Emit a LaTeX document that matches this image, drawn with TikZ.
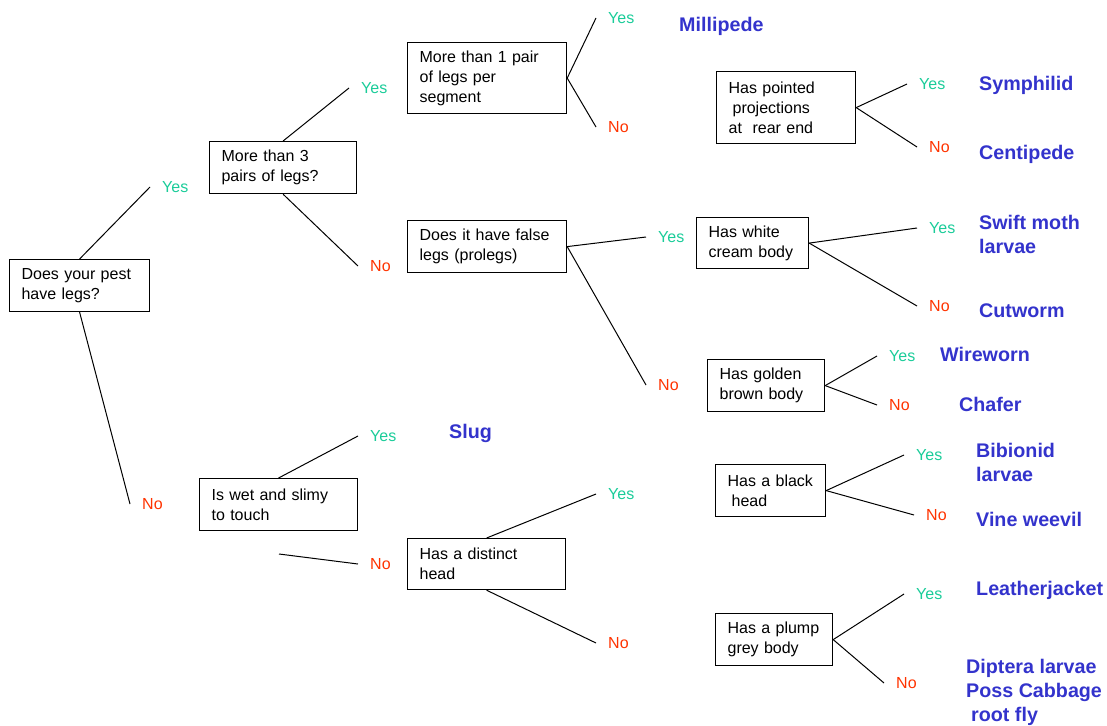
\documentclass[tikz,border=0pt]{standalone}
\usepackage{fontspec}
\setmainfont{Liberation Sans}
\definecolor{yescol}{RGB}{26,204,153}
\definecolor{nocol}{RGB}{255,51,0}
\definecolor{pestcol}{RGB}{51,51,204}
\begin{document}
\begin{tikzpicture}[x=1pt,y=-1pt,
 qbox/.style={draw,line width=1.2pt,anchor=north west,align=left,inner xsep=12pt,inner ysep=0pt,minimum height=52pt,font=\fontsize{16}{20}\selectfont},
 yeslbl/.style={anchor=west,inner xsep=12pt,inner ysep=0pt,text=yescol,font=\fontsize{16}{20}\selectfont},
 nolbl/.style={yeslbl,text=nocol},
 pest/.style={anchor=north west,inner sep=0pt,align=left,text=pestcol,font=\bfseries\fontsize{19.7}{24}\selectfont},
 link/.style={line width=1pt}]
 \useasboundingbox (0,0) rectangle (1107,725);
 % questions
 \node[qbox,text width=116pt] (legs) at (9,259) {Does your pest\\have legs?};
 \node[qbox,text width=123pt] (pairs) at (209,141) {More than 3\\pairs of legs?};
 \node[qbox,text width=135pt,minimum height=71pt] (perseg) at (407,42) {More than 1 pair\\of legs per\\segment};
 \node[qbox,text width=135pt] (false) at (407,220) {Does it have false\\legs (prolegs)};
 \node[qbox,text width=115pt,minimum height=72pt] (pointed) at (716,71) {Has pointed\\\hspace*{4pt}projections\\at\ \ rear end};
 \node[qbox,text width=88pt,minimum height=51pt] (white) at (696,217) {Has white\\cream body};
 \node[qbox,text width=93pt] (golden) at (707,359) {Has golden\\brown body};
 \node[qbox,text width=134pt] (slimy) at (199,478) {Is wet and slimy\\to touch};
 \node[qbox,text width=134pt,minimum height=51pt] (head) at (407,538) {Has a distinct\\head};
 \node[qbox,text width=86pt] (black) at (715,464) {Has a black\\\hspace*{4pt}head};
 \node[qbox,text width=93pt] (plump) at (715,613) {Has a plump\\grey body};
 % answers
 \node[yeslbl] (y1) at (150,187) {Yes};
 \node[nolbl] (n1) at (130,504) {No};
 \node[yeslbl] (y2) at (349,88) {Yes};
 \node[nolbl] (n2) at (358,266) {No};
 \node[yeslbl] (y3) at (596,18) {Yes};
 \node[nolbl] (n3) at (596,127) {No};
 \node[yeslbl] (y4) at (646,237) {Yes};
 \node[nolbl] (n4) at (646,385) {No};
 \node[yeslbl] (y5) at (907,84) {Yes};
 \node[nolbl] (n5) at (917,147) {No};
 \node[yeslbl] (y6) at (917,228) {Yes};
 \node[nolbl] (n6) at (917,306) {No};
 \node[yeslbl] (y7) at (877,356) {Yes};
 \node[nolbl] (n7) at (877,405) {No};
 \node[yeslbl] (y8) at (358,436) {Yes};
 \node[nolbl] (n8) at (358,564) {No};
 \node[yeslbl] (y9) at (596,494) {Yes};
 \node[nolbl] (n9) at (596,643) {No};
 \node[yeslbl] (y10) at (904,455) {Yes};
 \node[nolbl] (n10) at (914,515) {No};
 \node[yeslbl] (y11) at (904,594) {Yes};
 \node[nolbl] (n11) at (884,683) {No};
 \coordinate (slimyno) at (279,554);
 % pests
 \node[pest] (millipede) at (679,17) {Millipede};
 \node[pest] (symphilid) at (979,76) {Symphilid};
 \node[pest] (centipede) at (979,145) {Centipede};
 \node[pest] (swift) at (979,215) {Swift moth\\larvae};
 \node[pest] (cutworm) at (979,304) {Cutworm};
 \node[pest] (wireworn) at (940,347) {Wireworn};
 \node[pest] (chafer) at (959,397) {Chafer};
 \node[pest] (slug) at (449,424) {Slug};
 \node[pest] (bibionid) at (976,443) {Bibionid\\larvae};
 \node[pest] (weevil) at (976,512) {Vine weevil};
 \node[pest] (leather) at (976,581) {Leatherjacket};
 \node[pest] (diptera) at (966,659) {Diptera larvae\\Poss Cabbage\\\hspace*{5pt}root fly};
 % branches
 \draw[link] (legs.north) -- (y1.west);
 \draw[link] (legs.south) -- (n1.west);
 \draw[link] (pairs.north) -- (y2.west);
 \draw[link] (pairs.south) -- (n2.west);
 \draw[link] (perseg.east) -- (y3.west);
 \draw[link] (perseg.east) -- (n3.west);
 \draw[link] (false.east) -- (y4.west);
 \draw[link] (false.east) -- (n4.west);
 \draw[link] (pointed.east) -- (y5.west);
 \draw[link] (pointed.east) -- (n5.west);
 \draw[link] (white.east) -- (y6.west);
 \draw[link] (white.east) -- (n6.west);
 \draw[link] (golden.east) -- (y7.west);
 \draw[link] (golden.east) -- (n7.west);
 \draw[link] (slimy.north) -- (y8.west);
 \draw[link] (slimyno) -- (n8.west);
 \draw[link] (head.north) -- (y9.west);
 \draw[link] (head.south) -- (n9.west);
 \draw[link] (black.east) -- (y10.west);
 \draw[link] (black.east) -- (n10.west);
 \draw[link] (plump.east) -- (y11.west);
 \draw[link] (plump.east) -- (n11.west);
\end{tikzpicture}
\end{document}
